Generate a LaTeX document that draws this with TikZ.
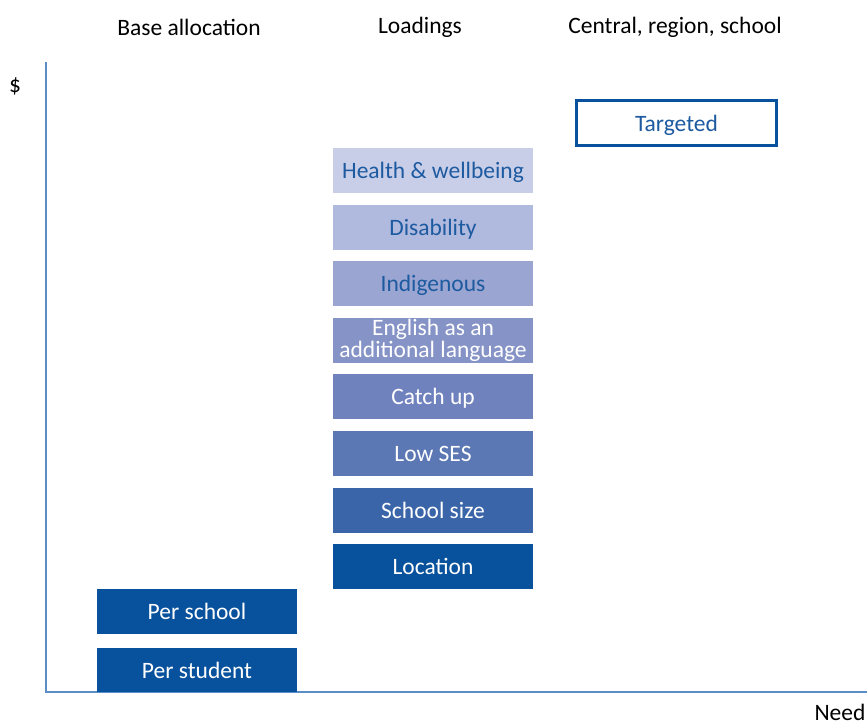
\documentclass[tikz,border=0pt]{standalone}
\usepackage{fontspec}
\setmainfont{Carlito}
\definecolor{axisblue}{HTML}{5B8DC8}
\definecolor{darkblue}{HTML}{08519C}
\definecolor{txtblue}{HTML}{1D5AA0}
\definecolor{cHealth}{HTML}{C8CEE8}
\definecolor{cDis}{HTML}{B0B9DE}
\definecolor{cInd}{HTML}{9AA5D1}
\definecolor{cEng}{HTML}{8593C6}
\definecolor{cCatch}{HTML}{7082BE}
\definecolor{cLow}{HTML}{5B77B4}
\definecolor{cSize}{HTML}{3A65A8}
\begin{document}
\begin{tikzpicture}[x=1pt,y=-1pt,
  every node/.style={font=\fontsize{23.5}{21.5}\selectfont},
  bar/.style={minimum width=200pt,minimum height=45pt,inner sep=0pt,align=center,text=white,text height=18pt,text depth=2pt},
  lbar/.style={bar,text=txtblue},
  hdr/.style={text=black,inner sep=0pt},
  axisline/.style={draw=axisblue,line width=2pt}]
\useasboundingbox (0,0) rectangle (867,725);
\fill[white] (0,0) rectangle (867,725);
% headers
\node[hdr] (h1) at (189,27) {Base allocation};
\node[hdr] (h2) at (420,27) {Loadings};
\node[hdr] (h3) at (675,27) {Central, region, school};
\node[hdr] (dollar) at (15,86) {\$};
\node[hdr] (need) at (840,712) {Need};
% axes
\coordinate (top) at (46,62);
\coordinate (origin) at (46,692);
\coordinate (right) at (867,692);
\draw[axisline] (top) -- (origin) -- (right);
% base allocation
\node[bar,fill=darkblue] (school) at (197,611.5) {Per school};
\node[bar,fill=darkblue,minimum height=44pt] (student) at (197,670) {Per student};
% loadings
\node[lbar,fill=cHealth] (health) at (433,170.5) {Health \& wellbeing};
\node[lbar,fill=cDis] (dis) at (433,227.5) {Disability};
\node[lbar,fill=cInd] (ind) at (433,283.5) {Indigenous};
\node[bar,fill=cEng,text height=,text depth=] (eng) at (433,340.5) {English as an\\additional language};
\node[bar,fill=cCatch] (catch) at (433,396.5) {Catch up};
\node[bar,fill=cLow] (low) at (433,453.5) {Low SES};
\node[bar,fill=cSize] (size) at (433,510) {School size};
\node[bar,fill=darkblue] (loc) at (433,566.5) {Location};
% targeted
\node[bar,draw=darkblue,line width=3pt,fill=white,text=txtblue] (target) at (676.5,123) {Targeted};
\end{tikzpicture}
\end{document}
